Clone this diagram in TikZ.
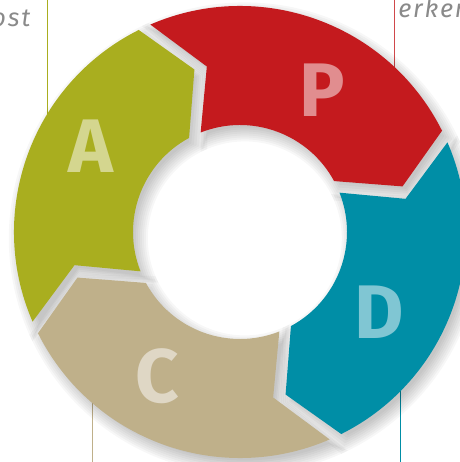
\documentclass[tikz,border=0pt]{standalone}
\usepackage{fontspec}
\newfontfamily\cyclefont{Fira Sans}
\newfontfamily\notefont{Fira Sans}[LetterSpace=7]
\definecolor{planred}{HTML}{C41A1E}
\definecolor{doteal}{HTML}{008EA6}
\definecolor{checktan}{HTML}{BFB08A}
\definecolor{actgreen}{HTML}{A9AE1F}
\definecolor{notegray}{HTML}{8A8A8A}
\tikzset{
  every picture/.style={line join=round, line cap=round},
  leader/.style={line width=0.7pt},
  shade layer/.style={fill=black, opacity=0.03},
  letter/.style={inner sep=0pt, font=\cyclefont\bfseries\fontsize{54}{54}\selectfont},
  note/.style={inner sep=0pt, anchor=base west, text=notegray, font=\notefont\itshape\fontsize{18}{20}\selectfont},
}
% ring radii (cm), half gap, angle of the arrow point
\def\Ri{2.675}\def\Rm{4.22}\def\Ro{5.65}\def\gp{0.16}\def\tip{11.5}
% segment from boundary #1 (clockwise 90 deg), grown by #2
\newcommand{\segcalc}[2]{%
  \pgfmathsetmacro\sa{#1}%
  \pgfmathsetmacro\ro{\Ro+(#2)}%
  \pgfmathsetmacro\ri{\Ri-(#2)}%
  \pgfmathsetmacro\ao{deg((\gp-(#2))/\ro)}%
  \pgfmathsetmacro\am{deg((\gp-(#2))/\Rm)}%
  \pgfmathsetmacro\ai{deg((\gp-(#2))/\ri)}}
\newcommand{\segpath}{({\sa-\ao}:\ro) arc[start angle={\sa-\ao}, end angle={\sa-90+\ao}, radius=\ro]
  -- ({\sa-90-\tip+\am}:\Rm) -- ({\sa-90+\ai}:\ri)
  arc[start angle={\sa-90+\ai}, end angle={\sa-\ai}, radius=\ri]
  -- ({\sa-\tip-\am}:\Rm) -- cycle}

\begin{document}
\begin{tikzpicture}
\useasboundingbox (-6.0,-5.75) rectangle (5.5,5.8);
\clip (-6.0,-5.75) rectangle (5.5,5.8);
% leader lines
\draw[leader,actgreen](-4.81,5.8)--(-4.81,2.5);
\draw[leader,planred!80!white](3.85,5.8)--(3.85,3.5);
\draw[leader,checktan](-3.70,-5.8)--(-3.70,-3.5);
\draw[leader,doteal](4.00,-5.8)--(4.00,-3.5);
% soft shadow
\begin{scope}[shift={(0.12,-0.16)}]
\foreach \e in {-0.10,-0.05,...,0.26}{
  \foreach \s in {115,25,-65,205}{
    \segcalc{\s}{\e}
    \fill[shade layer] \segpath;
  }
}
\end{scope}
% the four arrows
\foreach \s/\c/\n/\l/\r in {115/planred/p/P/4.1,25/doteal/d/D/4.03,-65/checktan/c/C/4.15,205/actgreen/a/A/4.3}{
  \segcalc{\s}{0}
  \fill[\c] \segpath;
  \node[letter,text=\c!50!white] (\n) at ({\s-55}:\r) {\l};
}
\node[note] (ostnote) at (-6.22,5.125) {ost};
\node[note] (erknote) at (3.95,5.36) {erken};
\end{tikzpicture}
\end{document}
